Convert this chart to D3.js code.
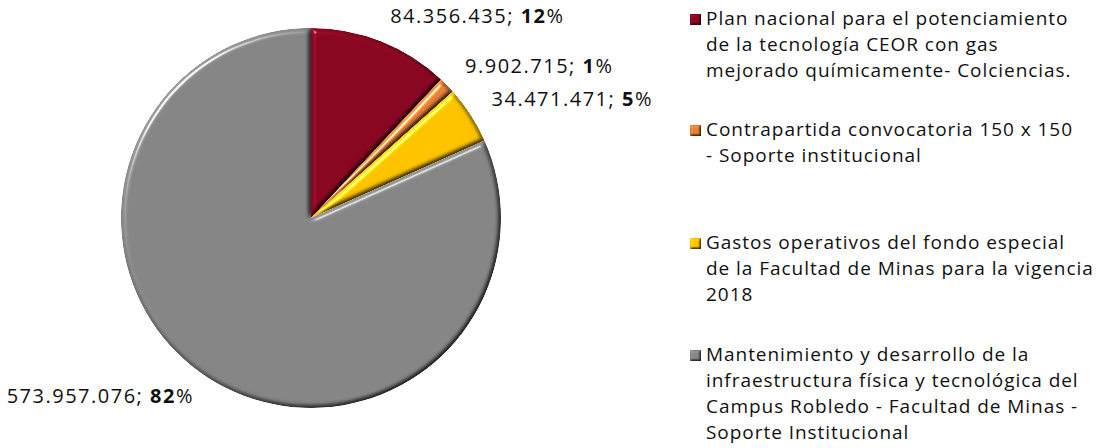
<!DOCTYPE html>
<html>
<head>
<meta charset="utf-8">
<script src="https://cdn.jsdelivr.net/npm/d3@7"></script>
<style>
  html, body { margin: 0; padding: 0; background: #fff; }
  svg { display: block; font-family: "Open Sans", "Noto Sans", sans-serif; }
</style>
</head>
<body>
<svg id="chart" width="1099" height="448"></svg>
<script>
// Budget sources (COP)
const categories = [
  ["Plan nacional para el potenciamiento", "de la tecnología CEOR con gas", "mejorado químicamente- Colciencias."],
  ["Contrapartida convocatoria 150 x 150", "- Soporte institucional"],
  ["Gastos operativos del fondo especial", "de la Facultad de Minas para la vigencia", "2018"],
  ["Mantenimiento y desarrollo de la", "infraestructura física y tecnológica del", "Campus Robledo - Facultad de Minas -", "Soporte Institucional"]
];
const values = [84356435, 9902715, 34471471, 573957076];
const colors = ["#8a0722", "#e8803a", "#ffc400", "#868686"];

const svg = d3.select("#chart");
const cx = 311, cy = 218, radius = 190, labelRadius = 215;

// Bevel filter: blurred alpha used as a height map, lit by a distant light
const defs = svg.append("defs");
function bevel(id, std, scale, spec) {
  const f = defs.append("filter").attr("id", id)
    .attr("color-interpolation-filters", "sRGB")
    .attr("x", "-10%").attr("y", "-10%").attr("width", "120%").attr("height", "120%");
  f.append("feGaussianBlur").attr("in", "SourceAlpha").attr("stdDeviation", std).attr("result", "blur");
  f.append("feDiffuseLighting").attr("in", "blur").attr("surfaceScale", scale)
    .attr("diffuseConstant", 1).attr("lighting-color", "#fff").attr("result", "diff")
    .append("feDistantLight").attr("azimuth", 225).attr("elevation", 60);
  f.append("feComposite").attr("in", "SourceGraphic").attr("in2", "diff")
    .attr("operator", "arithmetic").attr("k1", 1 / Math.sin(60 * Math.PI / 180))
    .attr("k2", 0).attr("k3", 0).attr("k4", 0).attr("result", "lit");
  f.append("feSpecularLighting").attr("in", "blur").attr("surfaceScale", scale)
    .attr("specularConstant", spec).attr("specularExponent", 60).attr("lighting-color", "#fff")
    .attr("result", "spec")
    .append("feDistantLight").attr("azimuth", 225).attr("elevation", 40);
  f.append("feComposite").attr("in", "spec").attr("in2", "SourceAlpha").attr("operator", "in").attr("result", "specIn");
  f.append("feComposite").attr("in", "lit").attr("in2", "specIn")
    .attr("operator", "arithmetic").attr("k1", 0).attr("k2", 1).attr("k3", 1).attr("k4", 0).attr("result", "out");
  f.append("feComposite").attr("in", "out").attr("in2", "SourceAlpha").attr("operator", "in");
}
bevel("bevel", 2.5, 3.5, 0.6);
bevel("bevelSmall", 1.2, 2, 0.3);

const total = d3.sum(values);
const pie = d3.pie().sort(null).value(d => d)(values);
const arc = d3.arc().innerRadius(0).outerRadius(radius);
const labelArc = d3.arc().innerRadius(labelRadius).outerRadius(labelRadius);

const g = svg.append("g").attr("transform", `translate(${cx},${cy})`);
g.selectAll("path.slice")
  .data(pie)
  .join("path")
  .attr("class", "slice")
  .attr("d", arc)
  .attr("fill", (d, i) => colors[i])
  .attr("filter", "url(#bevel)");

// Value labels: "84.356.435; 12%"
const fmtNum = n => d3.format(",")(n).replace(/,/g, ".");
const lbl = g.selectAll("text.lbl")
  .data(pie)
  .join("text")
  .attr("class", "lbl")
  .attr("font-size", 20)
  .attr("letter-spacing", 1.5)
  .attr("fill", "#111")
  .attr("dominant-baseline", "middle")
  .attr("text-anchor", d => ((d.startAngle + d.endAngle) / 2 > Math.PI ? "end" : "start"))
  .attr("transform", d => {
    const [x, y] = labelArc.centroid(d);
    return `translate(${x},${y})`;
  });
lbl.append("tspan").text(d => fmtNum(d.value) + "; ");
lbl.append("tspan").attr("font-weight", "bold").text(d => Math.round(d.value / total * 100));
lbl.append("tspan").text("%");

// Legend
const legendX = 690;
const legendTops = [20, 131, 244, 356];
const lineH = 26;
const leg = svg.append("g");
categories.forEach((lines, i) => {
  const y0 = legendTops[i];
  leg.append("rect")
    .attr("x", legendX).attr("y", y0 - 6).attr("width", 11).attr("height", 11)
    .attr("fill", colors[i]).attr("filter", "url(#bevelSmall)");
  const t = leg.append("text")
    .attr("font-size", 19).attr("letter-spacing", 0.95).attr("fill", "#111")
    .attr("dominant-baseline", "middle");
  lines.forEach((s, j) => {
    t.append("tspan").attr("x", legendX + 16).attr("y", y0 + j * lineH).text(s);
  });
});
</script>
</body>
</html>
